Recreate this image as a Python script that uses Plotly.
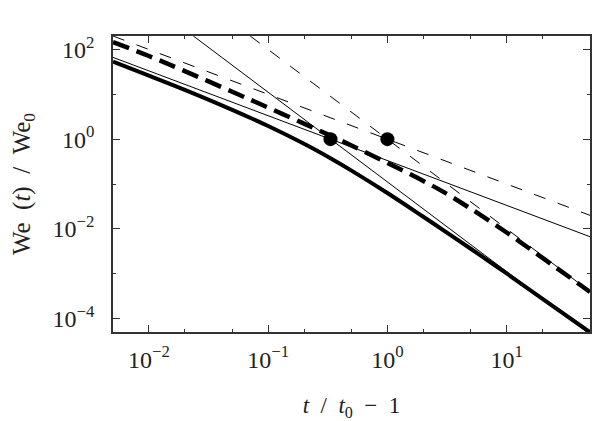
import plotly.graph_objects as go

# ---- data ----
t_vals = [0.005, 0.01, 0.02, 0.05, 0.1, 0.2, 0.333, 0.5, 1, 2, 3, 5, 10, 20, 50]
we_solid = [54, 26.2, 12.6, 4.51, 1.96, 0.787, 0.375, 0.199, 0.063, 0.0186, 0.00904,
            0.0036, 0.00101, 0.000275, 0.0000492]
we_dashed = [147, 71.6, 33.0, 11.4, 5.06, 2.22, 1.20, 0.724, 0.296, 0.117, 0.0649,
             0.0281, 0.00828, 0.00225, 0.000391]

# asymptotes (end points)
asym_solid_shallow_x = [0.005, 50]
asym_solid_shallow_y = [66.7, 0.00667]
asym_solid_steep_x = [0.0236, 50]
asym_solid_steep_y = [200, 0.0000444]
asym_dash_shallow_x = [0.005, 50]
asym_dash_shallow_y = [200, 0.02]
asym_dash_steep_x = [0.0707, 50]
asym_dash_steep_y = [200, 0.0004]

# crossing points
dots_x = [1 / 3, 1]
dots_y = [1, 1]

xtick_vals = [0.01, 0.1, 1, 10]
xtick_text = ["10<sup>−2</sup>", "10<sup>−1</sup>", "10<sup>0</sup>", "10<sup>1</sup>"]
xminor_vals = [0.02, 0.05, 0.2, 0.5, 2, 5, 20]
ytick_vals = [1e-4, 1e-2, 1, 100]
ytick_text = ["10<sup>−4</sup>", "10<sup>−2</sup>", "10<sup>0</sup>", "10<sup>2</sup>"]
yminor_vals = [1e-3, 1e-1, 10]

FONT = "Liberation Serif"
SP = "\u2002"

fig = go.Figure()
thin = dict(color="black", width=1)
fig.add_trace(go.Scatter(x=asym_solid_shallow_x, y=asym_solid_shallow_y, mode="lines", line=thin))
fig.add_trace(go.Scatter(x=asym_solid_steep_x, y=asym_solid_steep_y, mode="lines", line=thin))
fig.add_trace(go.Scatter(x=asym_dash_shallow_x, y=asym_dash_shallow_y, mode="lines",
                         line=dict(color="black", width=1, dash="12px,13px")))
fig.add_trace(go.Scatter(x=asym_dash_steep_x, y=asym_dash_steep_y, mode="lines",
                         line=dict(color="black", width=1, dash="12px,13px")))
fig.add_trace(go.Scatter(x=t_vals, y=we_solid, mode="lines",
                         line=dict(color="black", width=4, shape="spline")))
fig.add_trace(go.Scatter(x=t_vals, y=we_dashed, mode="lines",
                         line=dict(color="black", width=4.5, shape="spline", dash="17px,8px")))
fig.add_trace(go.Scatter(x=dots_x, y=dots_y, mode="markers",
                         marker=dict(color="black", size=14)))

axis_common = dict(
    type="log", showgrid=False, zeroline=False, showline=True, linecolor="#333",
    linewidth=1.5, mirror="ticks", ticks="inside", ticklen=7, tickwidth=1.2,
    tickcolor="#333", tickfont=dict(family=FONT, size=24, color="#222"),
    automargin=False,
)
fig.update_xaxes(
    **axis_common, range=[-2.301, 1.699], tickmode="array",
    tickvals=xtick_vals, ticktext=xtick_text, ticklabelstandoff=5,
    minor=dict(tickmode="array", tickvals=xminor_vals, ticks="inside", ticklen=3,
               tickcolor="#333", tickwidth=1),
    title=dict(text=f"<i>t</i>{SP}/{SP}<i>t</i><sub>0</sub>{SP}−{SP}1",
               font=dict(family=FONT, size=23, color="#222"), standoff=27),
)
fig.update_yaxes(
    **axis_common, range=[-4.301, 2.301], tickmode="array",
    tickvals=ytick_vals, ticktext=ytick_text, ticklabelstandoff=12,
    minor=dict(tickmode="array", tickvals=yminor_vals, ticks="inside", ticklen=3,
               tickcolor="#333", tickwidth=1),
    title=dict(text=f"We{SP}(<i>t</i>){SP}/{SP}We<sub>0</sub>",
               font=dict(family=FONT, size=25, color="#222"), standoff=15),
)
fig.update_layout(
    width=600, height=421, showlegend=False,
    margin=dict(l=113, r=10, t=36, b=89),
    plot_bgcolor="white", paper_bgcolor="white",
    font=dict(family=FONT),
)
fig.write_html("out.html")
